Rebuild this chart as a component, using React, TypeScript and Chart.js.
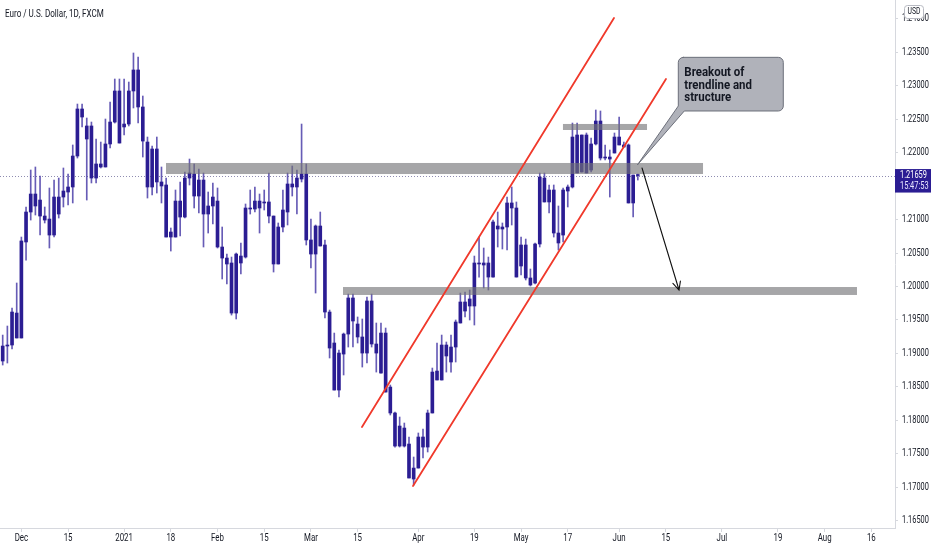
import React, { useEffect, useRef } from "react";
import { Chart, registerables } from "chart.js";

Chart.register(...registerables);

// EUR/USD daily candles (FXCM), 25 Nov 2020 – 7 Jun 2021, one entry per trading day
const opens = [
  1.18887, 1.19111, 1.19126, 1.19604, 1.19231, 1.20666, 1.21114, 1.21383, 1.21293, 1.21054,
  1.21009, 1.2077, 1.21084, 1.21338, 1.21413, 1.21488, 1.21951, 1.22654, 1.224, 1.224,
  1.21622, 1.21832, 1.21787, 1.22131, 1.22459, 1.22923, 1.22385, 1.22429, 1.22923, 1.23237,
  1.22684, 1.2216, 1.21488, 1.22056, 1.21563, 1.21518, 1.2074, 1.2074, 1.21278, 1.21039,
  1.21622, 1.21682, 1.21353, 1.21592, 1.21084, 1.21204, 1.21278, 1.20591, 1.20426, 1.20352,
  1.19604, 1.20456, 1.20441, 1.21174, 1.21159, 1.21278, 1.21249, 1.21264, 1.21054, 1.20337,
  1.2089, 1.21114, 1.21533, 1.21488, 1.21607, 1.21682, 1.20696, 1.20486, 1.20905, 1.20621,
  1.19619, 1.19156, 1.18453, 1.18991, 1.1929, 1.19829, 1.1944, 1.19246, 1.19006, 1.19784,
  1.19141, 1.18707, 1.19305, 1.18498, 1.1811, 1.17616, 1.17885, 1.17646, 1.17123, 1.17287,
  1.17751, 1.17601, 1.1811, 1.18737, 1.18603, 1.19126, 1.19096, 1.19096, 1.19455, 1.19769,
  1.19709, 1.19709, 1.20352, 1.20322, 1.20352, 1.20142, 1.20905, 1.2086, 1.2089, 1.21249,
  1.21174, 1.20307, 1.20621, 1.20128, 1.20053, 1.20636, 1.21622, 1.21264, 1.21443, 1.208,
  1.2077, 1.21428, 1.21488, 1.22265, 1.21712, 1.22265, 1.21742, 1.22131, 1.22474, 1.21921,
  1.21936, 1.21996, 1.22235, 1.22116, 1.22116, 1.21249, 1.21667,
];
const highs = [
  1.19275, 1.1941, 1.19679, 1.20053, 1.2074, 1.21189, 1.21742, 1.21787, 1.21652, 1.21189,
  1.21473, 1.21592, 1.21622, 1.21772, 1.21682, 1.22116, 1.22728, 1.22728, 1.22519, 1.22459,
  1.22205, 1.2216, 1.22504, 1.22758, 1.23102, 1.23102, 1.23102, 1.23057, 1.23491, 1.23431,
  1.22848, 1.22235, 1.22101, 1.22235, 1.21787, 1.21622, 1.20875, 1.21443, 1.21563, 1.21712,
  1.21906, 1.21832, 1.21757, 1.21697, 1.21413, 1.21548, 1.21473, 1.2089, 1.20486, 1.20441,
  1.20501, 1.20651, 1.21234, 1.21443, 1.21488, 1.21383, 1.21443, 1.21697, 1.21054, 1.2095,
  1.21443, 1.21697, 1.21802, 1.21742, 1.22429, 1.21832, 1.21009, 1.2092, 1.21114, 1.20696,
  1.19649, 1.19305, 1.19051, 1.19305, 1.19888, 1.19888, 1.19545, 1.19515, 1.19843, 1.19888,
  1.19455, 1.19455, 1.1938, 1.18528, 1.18124, 1.1805, 1.1796, 1.17751, 1.17452, 1.17811,
  1.1787, 1.18154, 1.18782, 1.19156, 1.19275, 1.19171, 1.19275, 1.195, 1.19903, 1.19918,
  1.19948, 1.20456, 1.2074, 1.20576, 1.20441, 1.20994, 1.21114, 1.2095, 1.21338, 1.21488,
  1.21264, 1.2074, 1.2071, 1.20262, 1.20651, 1.21697, 1.21697, 1.21518, 1.21518, 1.21204,
  1.21473, 1.21518, 1.22444, 1.22444, 1.22265, 1.22295, 1.2222, 1.22639, 1.22624, 1.22116,
  1.22041, 1.22295, 1.22534, 1.2216, 1.22131, 1.21667, 1.21682,
];
const lows = [
  1.18827, 1.18857, 1.19066, 1.19231, 1.19231, 1.20396, 1.20994, 1.21069, 1.2077, 1.2095,
  1.20576, 1.2074, 1.21024, 1.21189, 1.21219, 1.21249, 1.21921, 1.22385, 1.21293, 1.21548,
  1.21548, 1.21772, 1.21787, 1.22071, 1.22444, 1.22145, 1.22265, 1.224, 1.22669, 1.22444,
  1.21936, 1.21323, 1.21368, 1.21398, 1.21249, 1.2074, 1.20531, 1.2074, 1.20755, 1.21024,
  1.21518, 1.21174, 1.21099, 1.20591, 1.208, 1.20935, 1.20576, 1.20113, 1.20038, 1.19574,
  1.19515, 1.20187, 1.20426, 1.21084, 1.21114, 1.208, 1.21144, 1.2095, 1.20217, 1.20337,
  1.20815, 1.2092, 1.21353, 1.21084, 1.21563, 1.20621, 1.20277, 1.19903, 1.20606, 1.1953,
  1.18932, 1.18453, 1.18349, 1.18678, 1.19096, 1.19096, 1.19156, 1.18797, 1.18857, 1.19096,
  1.18722, 1.18707, 1.18423, 1.1808, 1.17601, 1.17601, 1.17601, 1.17138, 1.17033, 1.17287,
  1.17437, 1.17527, 1.1811, 1.18603, 1.18603, 1.18722, 1.18722, 1.18872, 1.19455, 1.19545,
  1.195, 1.19425, 1.20142, 1.19978, 1.19948, 1.20142, 1.20591, 1.20561, 1.20546, 1.2092,
  1.20142, 1.20172, 1.20098, 1.20008, 1.20038, 1.20591, 1.21264, 1.21099, 1.2074, 1.20546,
  1.20666, 1.21189, 1.21473, 1.21697, 1.21712, 1.21697, 1.21712, 1.22116, 1.21891, 1.21891,
  1.21338, 1.21996, 1.22116, 1.22086, 1.21249, 1.21039, 1.21592,
];
const closes = [
  1.19111, 1.19126, 1.19619, 1.19231, 1.20681, 1.21114, 1.21383, 1.21204, 1.21054, 1.20994,
  1.2077, 1.21338, 1.21338, 1.21428, 1.21488, 1.21951, 1.22654, 1.22534, 1.22205, 1.21622,
  1.21832, 1.21787, 1.22131, 1.22459, 1.22923, 1.22145, 1.22429, 1.22923, 1.23237, 1.22684,
  1.22175, 1.21488, 1.22056, 1.21563, 1.21503, 1.2074, 1.20815, 1.21278, 1.21039, 1.21622,
  1.21697, 1.21353, 1.21592, 1.21084, 1.21204, 1.21338, 1.20591, 1.20426, 1.20337, 1.19604,
  1.20486, 1.20352, 1.21174, 1.21159, 1.21278, 1.21174, 1.21264, 1.21054, 1.20337, 1.2089,
  1.21144, 1.21533, 1.21488, 1.21622, 1.21682, 1.20696, 1.20486, 1.20905, 1.20606, 1.19619,
  1.19081, 1.18453, 1.19006, 1.1929, 1.19829, 1.19485, 1.19246, 1.19006, 1.19784, 1.19141,
  1.19006, 1.19305, 1.18423, 1.1811, 1.17616, 1.17915, 1.17616, 1.17138, 1.17287, 1.17751,
  1.17601, 1.1811, 1.18722, 1.18603, 1.19126, 1.18962, 1.18872, 1.1947, 1.19769, 1.19634,
  1.19814, 1.20352, 1.20337, 1.20352, 1.20142, 1.20965, 1.2086, 1.2089, 1.21249, 1.21174,
  1.20142, 1.20621, 1.20128, 1.20023, 1.20636, 1.21637, 1.21264, 1.21443, 1.208, 1.20651,
  1.21443, 1.21488, 1.22235, 1.21697, 1.22265, 1.21697, 1.22131, 1.22474, 1.21921, 1.21936,
  1.21906, 1.22235, 1.22116, 1.22086, 1.21249, 1.21667, 1.21659,
];

// time axis: bar index of each labelled day, and its label
const xTickIdx = [4, 14, 26, 36, 46, 56, 66, 76, 89, 101, 111, 121, 132, 142, 154, 166, 176, 186];
const xTickLabels = ["Dec", "15", "2021", "18", "Feb", "15", "Mar", "15", "Apr", "19", "May", "17", "Jun", "15", "Jul", "19", "Aug", "16"];
const xMin = -0.578;
const xMax = 191.07;

// price axis
const yTicks = [1.165, 1.17, 1.175, 1.18, 1.185, 1.19, 1.195, 1.2, 1.205, 1.21, 1.215, 1.22, 1.225, 1.23, 1.235, 1.24];
const yMin = 1.16391;
const yMax = 1.24283;

const lastPrice = 1.21659;
const barCountdown = "15:47:53";
const chartTitle = "Euro / U.S. Dollar, 1D, FXCM";
const currency = "USD";

// drawings (anchored in bar index / price)
const zoneStart = [34.97, 119.97, 72.87];
const zoneEnd = [149.96, 137.97, 182.93];
const zoneHigh = [1.21847, 1.2243, 1.19993];
const zoneLow = [1.21682, 1.2234, 1.19874];

const channelUpperIdx = [76.93, 130.9];
const channelUpperPrice = [1.179, 1.24014];
const channelLowerIdx = [87.86, 142.03];
const channelLowerPrice = [1.17018, 1.23102];

const arrowIdx = [136.9, 144.82];
const arrowPrice = [1.21772, 1.19948];

const calloutIdx = [144.67, 167.15];
const calloutPrice = [1.23426, 1.22624];
const calloutTip = [135.9, 1.21817];
const calloutLines = ["Breakout of", "trendline and", "structure"];

const FONT = "Roboto, 'Noto Sans', sans-serif";
const BODY = "#2b1d93";
const WICK = "rgba(52,38,158,0.75)";
const AXIS = "#d6d8de";

function drawText(
  ctx: CanvasRenderingContext2D,
  text: string,
  x: number,
  y: number,
  o: { size: number; weight?: string; color: string; align?: string; sx?: number; baseline?: CanvasTextBaseline }
) {
  const sx = o.sx ?? 1;
  ctx.save();
  ctx.font = `${o.weight ?? "normal"} ${o.size}px ${FONT}`;
  ctx.fillStyle = o.color;
  ctx.textBaseline = o.baseline ?? "middle";
  ctx.textAlign = "left";
  const w = ctx.measureText(text).width * sx;
  const x0 = o.align === "center" ? x - w / 2 : o.align === "right" ? x - w : x;
  ctx.translate(x0, y);
  ctx.scale(sx, 1);
  ctx.fillText(text, 0, 0);
  ctx.restore();
}

const overlayPlugin = {
  id: "tvOverlay",
  beforeDatasetsDraw(chart: any) {
    const { ctx, chartArea: a, scales } = chart;
    const yy = Math.round(scales.y.getPixelForValue(lastPrice)) + 0.5;
    ctx.save();
    ctx.strokeStyle = "#8e8bb0";
    ctx.lineWidth = 1;
    ctx.setLineDash([1, 2]);
    ctx.beginPath();
    ctx.moveTo(a.left, yy);
    ctx.lineTo(a.right, yy);
    ctx.stroke();
    ctx.restore();
  },
  afterDatasetsDraw(chart: any) {
    const { ctx, chartArea: a, scales } = chart;
    const X = (v: number) => scales.x.getPixelForValue(v);
    const Y = (v: number) => scales.y.getPixelForValue(v);
    ctx.save();
    ctx.beginPath();
    ctx.rect(a.left, a.top, a.right - a.left, a.bottom - a.top);
    ctx.clip();

    // zones
    ctx.fillStyle = "rgba(115,115,119,0.64)";
    zoneStart.forEach((s, k) => {
      const x0 = X(s);
      const x1 = X(zoneEnd[k]);
      const y0 = Y(zoneHigh[k]);
      const y1 = Y(zoneLow[k]);
      ctx.fillRect(x0, y0, x1 - x0, y1 - y0);
    });

    // channel
    ctx.strokeStyle = "#f0392b";
    ctx.lineWidth = 1.8;
    ctx.lineCap = "round";
    const seg = (xs: number[], ys: number[]) => {
      ctx.beginPath();
      ctx.moveTo(X(xs[0]), Y(ys[0]));
      ctx.lineTo(X(xs[1]), Y(ys[1]));
      ctx.stroke();
    };
    seg(channelUpperIdx, channelUpperPrice);
    seg(channelLowerIdx, channelLowerPrice);

    // arrow
    const ax0 = X(arrowIdx[0]);
    const ay0 = Y(arrowPrice[0]);
    const ax1 = X(arrowIdx[1]);
    const ay1 = Y(arrowPrice[1]);
    ctx.strokeStyle = "#111111";
    ctx.lineWidth = 1.1;
    ctx.beginPath();
    ctx.moveTo(ax0, ay0);
    ctx.lineTo(ax1, ay1);
    const ang = Math.atan2(ay1 - ay0, ax1 - ax0);
    const hl = 9;
    const sp = 0.45;
    ctx.moveTo(ax1 - hl * Math.cos(ang - sp), ay1 - hl * Math.sin(ang - sp));
    ctx.lineTo(ax1, ay1);
    ctx.lineTo(ax1 - hl * Math.cos(ang + sp), ay1 - hl * Math.sin(ang + sp));
    ctx.stroke();

    // callout
    const L = X(calloutIdx[0]);
    const R = X(calloutIdx[1]);
    const T = Y(calloutPrice[0]);
    const B = Y(calloutPrice[1]);
    const tx = X(calloutTip[0]);
    const ty = Y(calloutTip[1]);
    const r = 5;
    ctx.beginPath();
    ctx.moveTo(L + r, T);
    ctx.lineTo(R - r, T);
    ctx.arcTo(R, T, R, T + r, r);
    ctx.lineTo(R, B - r);
    ctx.arcTo(R, B, R - r, B, r);
    ctx.lineTo(L + 6, B);
    ctx.lineTo(tx, ty);
    ctx.lineTo(L, B - 5);
    ctx.lineTo(L, T + r);
    ctx.arcTo(L, T, L + r, T, r);
    ctx.closePath();
    ctx.fillStyle = "#b0b2ba";
    ctx.fill();
    ctx.strokeStyle = "#6c6f7a";
    ctx.lineWidth = 1;
    ctx.stroke();
    calloutLines.forEach((t, k) => {
      drawText(ctx, t, L + 6, T + 18.7 + k * 12.6, {
        size: 13.5,
        weight: "bold",
        color: "#131722",
        sx: 0.85,
        baseline: "alphabetic",
      });
    });
    ctx.restore();
  },
  afterDraw(chart: any) {
    const { ctx, chartArea: a, scales } = chart;
    const xs = scales.x;
    const ys = scales.y;

    // time labels
    xTickIdx.forEach((v, k) => {
      drawText(ctx, xTickLabels[k], xs.getPixelForValue(v), a.bottom + 10, {
        size: 10.5,
        color: "#131722",
        align: "center",
        sx: 0.75,
      });
    });

    // price labels
    yTicks.forEach((v) => {
      drawText(ctx, v.toFixed(5), ys.left + 7, ys.getPixelForValue(v), {
        size: 10,
        color: "#131722",
        sx: 0.74,
      });
    });

    // last price tag
    const py = ys.getPixelForValue(lastPrice);
    ctx.save();
    ctx.fillStyle = BODY;
    ctx.fillRect(ys.left, py - 6.5, 36, 23.5);
    ctx.restore();
    drawText(ctx, lastPrice.toFixed(5), ys.left + 5, py - 0.5, { size: 10, color: "#ffffff", sx: 0.74 });
    drawText(ctx, barCountdown, ys.left + 5, py + 10.8, { size: 10, color: "#e8e6ff", sx: 0.74 });

    // currency badge
    ctx.save();
    ctx.beginPath();
    ctx.roundRect(ys.left + 9.5, 5.5, 19, 13, 3);
    ctx.fillStyle = "#ffffff";
    ctx.fill();
    ctx.strokeStyle = "#b8bac2";
    ctx.lineWidth = 1;
    ctx.stroke();
    ctx.restore();
    drawText(ctx, currency, ys.left + 19, 12.2, { size: 8.5, color: "#131722", align: "center", sx: 0.8 });

    // title
    drawText(ctx, chartTitle, a.left + 5, 17, {
      size: 10.5,
      color: "#131722",
      sx: 0.77,
      baseline: "alphabetic",
    });
  },
};

export default function App() {
  const ref = useRef<HTMLCanvasElement | null>(null);

  useEffect(() => {
    if (!ref.current) return;
    const idx = opens.map((_, i) => i);
    const chart = new Chart(ref.current, {
      type: "bar",
      data: {
        datasets: [
          {
            label: "wick",
            data: idx.map((i) => ({ x: i, y: [lows[i], highs[i]] })) as any,
            backgroundColor: WICK,
            barThickness: 1,
            grouped: false,
            order: 2,
          } as any,
          {
            label: "body",
            data: idx.map((i) => ({
              x: i,
              y: [Math.min(opens[i], closes[i]), Math.max(opens[i], closes[i])],
            })) as any,
            backgroundColor: BODY,
            barThickness: 3,
            minBarLength: 1,
            grouped: false,
            order: 1,
          } as any,
        ],
      },
      options: {
        responsive: false,
        animation: false,
        events: [],
        layout: { padding: 0 },
        plugins: {
          legend: { display: false },
          tooltip: { enabled: false },
          title: { display: false },
        },
        scales: {
          x: {
            type: "linear",
            min: xMin,
            max: xMax,
            offset: false,
            grid: { display: true, drawOnChartArea: false, drawTicks: true, tickLength: 4, color: AXIS, offset: false },
            border: { display: true, color: AXIS },
            ticks: { display: false },
            afterBuildTicks: (s: any) => {
              s.ticks = xTickIdx.map((v) => ({ value: v }));
            },
            afterFit: (s: any) => {
              s.height = 22;
              s.paddingLeft = 0;
              s.paddingRight = 0;
            },
          },
          y: {
            type: "linear",
            position: "right",
            min: yMin,
            max: yMax,
            grid: { display: true, drawOnChartArea: false, drawTicks: true, tickLength: 3, color: AXIS },
            border: { display: true, color: AXIS },
            ticks: { display: false, includeBounds: false },
            afterBuildTicks: (s: any) => {
              s.ticks = yTicks.map((v) => ({ value: v }));
            },
            afterFit: (s: any) => {
              s.width = 37;
              s.paddingTop = 0;
              s.paddingBottom = 0;
            },
          },
        },
      } as any,
      plugins: [overlayPlugin as any],
    });
    return () => chart.destroy();
  }, []);

  return (
    <div style={{ position: "absolute", left: 0, top: 0, width: 932, height: 550, background: "#ffffff" }}>
      <canvas ref={ref} width={932} height={550} style={{ width: 932, height: 550, display: "block" }} />
    </div>
  );
}
